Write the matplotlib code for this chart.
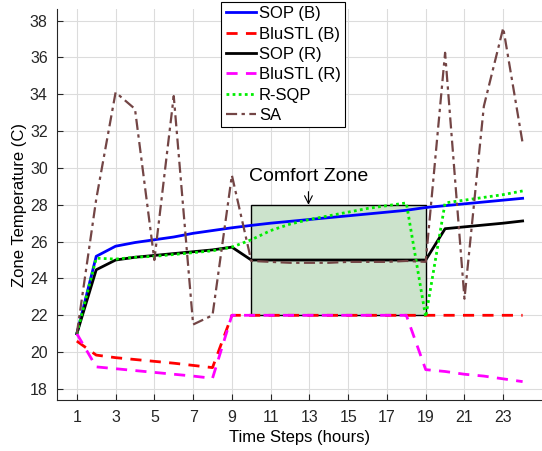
import matplotlib
matplotlib.use('Agg')
import matplotlib.pyplot as plt
from matplotlib.patches import Rectangle

plt.rcParams['font.family'] = ['Liberation Sans', 'DejaVu Sans']

# 时间步
hours = list(range(1, 25))

sop_b = [21.0, 25.2, 25.75, 25.95, 26.1, 26.25, 26.45, 26.6, 26.75, 26.88,
         27.0, 27.1, 27.2, 27.3, 27.4, 27.5, 27.6, 27.7, 27.85, 27.95,
         28.05, 28.15, 28.25, 28.35]
blustl_b = [20.6, 19.84, 19.7, 19.6, 19.5, 19.4, 19.28, 19.16, 22.0, 22.0,
            22.0, 22.0, 22.0, 22.0, 22.0, 22.0, 22.0, 22.0, 22.0, 22.0,
            22.0, 22.0, 22.0, 22.0]
sop_r = [21.0, 24.47, 25.0, 25.15, 25.25, 25.35, 25.45, 25.55, 25.7, 25.0,
         25.0, 25.0, 25.0, 25.0, 25.0, 25.0, 25.0, 25.0, 25.0, 26.7,
         26.8, 26.9, 27.0, 27.12]
blustl_r = [21.0, 19.2, 19.1, 19.0, 18.9, 18.8, 18.7, 18.58, 22.0, 22.0,
            22.0, 22.0, 22.0, 22.0, 22.0, 22.0, 22.0, 22.0, 19.05, 18.95,
            18.8, 18.7, 18.55, 18.4]
r_sqp = [21.0, 25.1, 25.05, 25.15, 25.2, 25.3, 25.4, 25.5, 25.7, 26.1,
         26.6, 26.95, 27.2, 27.4, 27.6, 27.8, 27.95, 28.1, 21.9, 28.1,
         28.25, 28.4, 28.55, 28.75]
sa = [21.0, 28.3, 34.1, 33.2, 25.0, 33.9, 21.5, 22.0, 29.6, 24.95,
      24.9, 24.85, 24.85, 24.85, 24.9, 24.9, 24.9, 24.95, 24.9, 36.25,
      22.9, 33.35, 37.6, 31.35]

# 舒适区
zone_hours = (10, 19)
zone_temp = (22, 28)

fig = plt.figure(figsize=(5.42, 4.51), dpi=100)
ax = fig.add_axes([0.106, 0.113, 0.894, 0.866])

ax.add_patch(Rectangle((zone_hours[0], zone_temp[0]),
                       zone_hours[1] - zone_hours[0], zone_temp[1] - zone_temp[0],
                       facecolor='#cce3cc', edgecolor='black', linewidth=1.0, zorder=1))

ax.plot(hours, sop_b, color='#0000ff', linestyle='-', linewidth=2, label='SOP (B)', zorder=3)
ax.plot(hours, blustl_b, color='#ff0000', linestyle=(0, (4, 3)), linewidth=2, label='BluSTL (B)', zorder=3)
ax.plot(hours, sop_r, color='black', linestyle='-', linewidth=2, label='SOP (R)', zorder=3)
ax.plot(hours, blustl_r, color='#ff00ff', linestyle=(0, (4, 3)), linewidth=2, label='BluSTL (R)', zorder=3)
ax.plot(hours, r_sqp, color='#00ee00', linestyle=(0, (1, 1.2)), linewidth=2, label='R-SQP', zorder=3)
ax.plot(hours, sa, color='#734545', linestyle=(0, (5, 2, 1.5, 2)), linewidth=1.6, label='SA', zorder=3)

ax.annotate('Comfort Zone', xy=(12.95, 28.0), xytext=(12.95, 29.55),
            ha='center', va='center', fontsize=14,
            arrowprops=dict(arrowstyle='->', color='black', lw=0.8, shrinkA=3, shrinkB=0))

ax.set_xlim(0, 25)
ax.set_ylim(17.4, 38.6)
ax.set_xticks(range(1, 25, 2))
ax.set_yticks(range(18, 39, 2))
ax.tick_params(direction='in', labelsize=11.5, length=4, pad=7, colors='#262626')
ax.grid(True, color='#dcdcdc', linewidth=0.8)
ax.set_axisbelow(True)
for side in ['top', 'right']:
    ax.spines[side].set_visible(False)
for side in ['left', 'bottom']:
    ax.spines[side].set_color('#262626')

ax.set_xlabel('Time Steps (hours)', fontsize=12, labelpad=4)
ax.set_ylabel('Zone Temperature (C)', fontsize=12, labelpad=2)

leg = ax.legend(loc='upper center', bbox_to_anchor=(0.466, 1.019), fontsize=12,
                fancybox=False, framealpha=1, edgecolor='black',
                handlelength=1.8, handletextpad=0.2, borderpad=0.25, labelspacing=0.32,
                borderaxespad=0)
leg.get_frame().set_linewidth(0.8)

fig.savefig('out.png', dpi=100)
